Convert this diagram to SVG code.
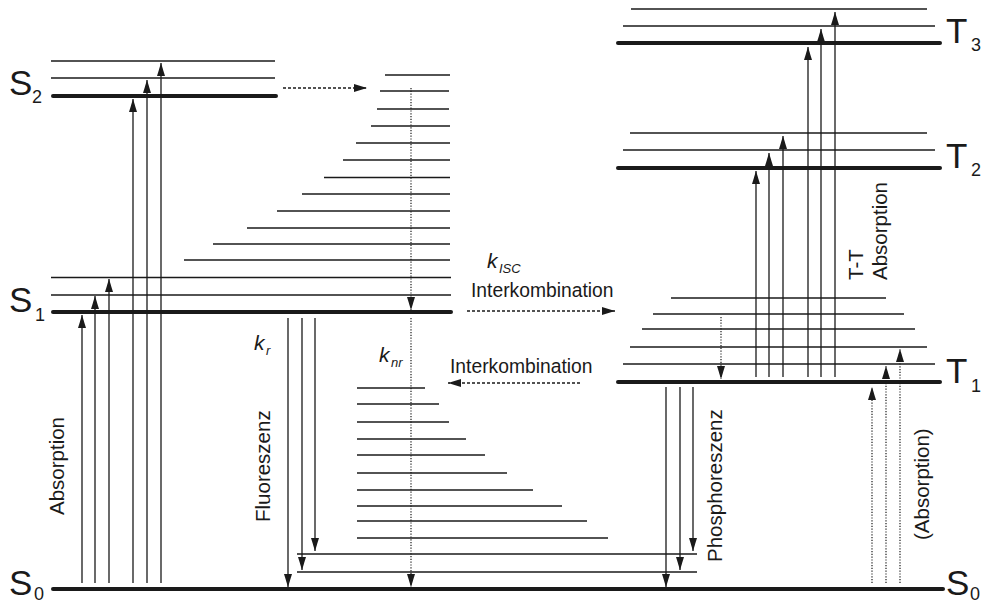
<svg xmlns="http://www.w3.org/2000/svg" width="982" height="604" viewBox="0 0 982 604">
<defs>
<style>
.thick{stroke:#1a1a1a;stroke-width:4;stroke-linecap:round;fill:none}
.thin{stroke:#1a1a1a;stroke-width:1.4;fill:none}
.arr{stroke:#1a1a1a;stroke-width:1.3;fill:none;marker-end:url(#ah)}
.dot{stroke:#1a1a1a;stroke-width:1.2;stroke-dasharray:1.2 1.6;fill:none;marker-end:url(#ah)}
.dash{stroke:#1a1a1a;stroke-width:1.3;stroke-dasharray:3 2;fill:none;marker-end:url(#ah)}
.lbl{font-family:"Liberation Sans",Arial,sans-serif;font-size:35px;fill:#1a1a1a}
.sub{font-family:"Liberation Sans",Arial,sans-serif;font-size:18px;fill:#1a1a1a}
.txt{font-family:"Liberation Sans",Arial,sans-serif;font-size:20.5px;fill:#1a1a1a}
.k{font-family:"Liberation Sans",Arial,sans-serif;font-size:21px;font-style:italic;fill:#1a1a1a}
.ks{font-family:"Liberation Sans",Arial,sans-serif;font-size:13px;font-style:italic;fill:#1a1a1a}
</style>
<marker id="ah" markerUnits="userSpaceOnUse" markerWidth="13" markerHeight="8" refX="13" refY="4" orient="auto">
<path d="M0,0 L13,4 L0,8 z" fill="#1a1a1a"/>
</marker>
</defs>
<rect width="982" height="604" fill="#ffffff"/>

<g id="S0">
<line class="thick" x1="53" y1="589" x2="943" y2="589"/>
<text class="lbl" x="9" y="595">S</text><text class="sub" x="34" y="600">0</text>
<text class="lbl" x="946" y="595">S</text><text class="sub" x="970" y="600">0</text>
</g>
<g id="S0-vib">
<line class="thin" x1="297" y1="572" x2="697" y2="572"/>
<line class="thin" x1="297" y1="554" x2="697" y2="554"/>
<line class="thin" x1="357" y1="538" x2="608" y2="538"/>
<line class="thin" x1="357" y1="521" x2="587" y2="521"/>
<line class="thin" x1="357" y1="506" x2="562" y2="506"/>
<line class="thin" x1="357" y1="490" x2="533" y2="490"/>
<line class="thin" x1="357" y1="473" x2="507" y2="473"/>
<line class="thin" x1="357" y1="455" x2="485" y2="455"/>
<line class="thin" x1="357" y1="439" x2="466" y2="439"/>
<line class="thin" x1="357" y1="422" x2="449" y2="422"/>
<line class="thin" x1="357" y1="404" x2="439" y2="404"/>
<line class="thin" x1="357" y1="388" x2="425" y2="388"/>
</g>
<g id="S1">
<line class="thick" x1="53" y1="312" x2="451" y2="312"/>
<text class="lbl" x="9" y="312">S</text><text class="sub" x="35" y="321">1</text>
</g>
<g id="S1-vib">
<line class="thin" x1="51" y1="295" x2="451" y2="295"/>
<line class="thin" x1="51" y1="277.5" x2="451" y2="277.5"/>
<line class="thin" x1="184" y1="260" x2="450" y2="260"/>
<line class="thin" x1="213" y1="244" x2="450" y2="244"/>
<line class="thin" x1="247" y1="228" x2="450" y2="228"/>
<line class="thin" x1="277" y1="211" x2="450" y2="211"/>
<line class="thin" x1="302" y1="194" x2="450" y2="194"/>
<line class="thin" x1="324" y1="177.5" x2="450" y2="177.5"/>
<line class="thin" x1="343" y1="160" x2="450" y2="160"/>
<line class="thin" x1="356" y1="143" x2="450" y2="143"/>
<line class="thin" x1="371" y1="126" x2="450" y2="126"/>
<line class="thin" x1="377" y1="109" x2="449" y2="109"/>
<line class="thin" x1="380" y1="91" x2="449" y2="91"/>
<line class="thin" x1="385" y1="75" x2="450" y2="75"/>
</g>
<g id="S2">
<line class="thick" x1="53" y1="96" x2="276" y2="96"/>
<line class="thin" x1="51" y1="78" x2="275" y2="78"/>
<line class="thin" x1="51" y1="61" x2="275" y2="61"/>
<text class="lbl" x="9" y="95">S</text><text class="sub" x="32" y="103">2</text>
</g>
<g id="T1">
<line class="thick" x1="618" y1="382" x2="940" y2="382"/>
<line class="thin" x1="623" y1="364" x2="935" y2="364"/>
<line class="thin" x1="630" y1="347" x2="927" y2="347"/>
<line class="thin" x1="642" y1="329" x2="915" y2="329"/>
<line class="thin" x1="653" y1="314" x2="904" y2="314"/>
<line class="thin" x1="671" y1="298" x2="886" y2="298"/>
<text class="lbl" x="946" y="383">T</text><text class="sub" x="971" y="392">1</text>
</g>
<g id="T2">
<line class="thick" x1="618" y1="168" x2="940" y2="168"/>
<line class="thin" x1="623" y1="150" x2="935" y2="150"/>
<line class="thin" x1="630" y1="133" x2="927" y2="133"/>
<text class="lbl" x="946" y="168">T</text><text class="sub" x="971" y="176">2</text>
</g>
<g id="T3">
<line class="thick" x1="618" y1="43" x2="940" y2="43"/>
<line class="thin" x1="623" y1="26" x2="935" y2="26"/>
<line class="thin" x1="631" y1="9" x2="927" y2="9"/>
<text class="lbl" x="946" y="43">T</text><text class="sub" x="971" y="51">3</text>
</g>

<g id="connectors">
<line class="arr" x1="82" y1="583" x2="82" y2="315"/>
<line class="arr" x1="95" y1="583" x2="95" y2="296"/>
<line class="arr" x1="109" y1="583" x2="109" y2="279"/>
<line class="arr" x1="133" y1="583" x2="133" y2="99"/>
<line class="arr" x1="147" y1="583" x2="147" y2="80"/>
<line class="arr" x1="161" y1="583" x2="161" y2="63"/>
<line class="arr" x1="288" y1="318" x2="288" y2="587"/>
<line class="arr" x1="302" y1="318" x2="302" y2="570"/>
<line class="arr" x1="315" y1="318" x2="315" y2="551"/>
<line class="arr" x1="666" y1="387" x2="666" y2="587"/>
<line class="arr" x1="680" y1="387" x2="680" y2="570"/>
<line class="arr" x1="693" y1="387" x2="693" y2="551"/>
<line class="arr" x1="756" y1="377" x2="756" y2="171"/>
<line class="arr" x1="769" y1="377" x2="769" y2="153"/>
<line class="arr" x1="783" y1="377" x2="783" y2="136"/>
<line class="arr" x1="808" y1="377" x2="808" y2="47"/>
<line class="arr" x1="821" y1="377" x2="821" y2="29"/>
<line class="arr" x1="835" y1="377" x2="835" y2="12"/>
<line class="dot" x1="872" y1="583" x2="872" y2="387"/>
<line class="dot" x1="886" y1="583" x2="886" y2="366"/>
<line class="dot" x1="900" y1="583" x2="900" y2="349"/>
<line class="dot" x1="411" y1="88" x2="411" y2="310"/>
<line class="dot" x1="411" y1="318" x2="411" y2="587"/>
<line class="dot" x1="721" y1="317" x2="721" y2="379"/>
<line class="dash" x1="283" y1="88" x2="367" y2="88"/>
<line class="dash" x1="467" y1="311" x2="615" y2="311"/>
<line class="dash" x1="580" y1="383" x2="448" y2="383"/>
</g>

<g id="labels">
<text class="txt" transform="translate(64,515) rotate(-90)">Absorption</text>
<text class="txt" transform="translate(270,522) rotate(-90)">Fluoreszenz</text>
<text class="txt" transform="translate(722,562) rotate(-90)">Phosphoreszenz</text>
<text class="txt" transform="translate(929,540) rotate(-90)">(Absorption)</text>
<text class="txt" transform="translate(863,280) rotate(-90)">T-T</text>
<text class="txt" transform="translate(887,280) rotate(-90)">Absorption</text>
<text class="txt" x="471" y="297" style="font-size:19.3px">Interkombination</text>
<text class="txt" x="450" y="373" style="font-size:19.3px">Interkombination</text>
<text class="k" x="487" y="268">k</text><text class="ks" x="499" y="273">ISC</text>
<text class="k" x="254" y="350">k</text><text class="ks" x="266" y="355">r</text>
<text class="k" x="379" y="362">k</text><text class="ks" x="391" y="367">nr</text>
</g>
</svg>
